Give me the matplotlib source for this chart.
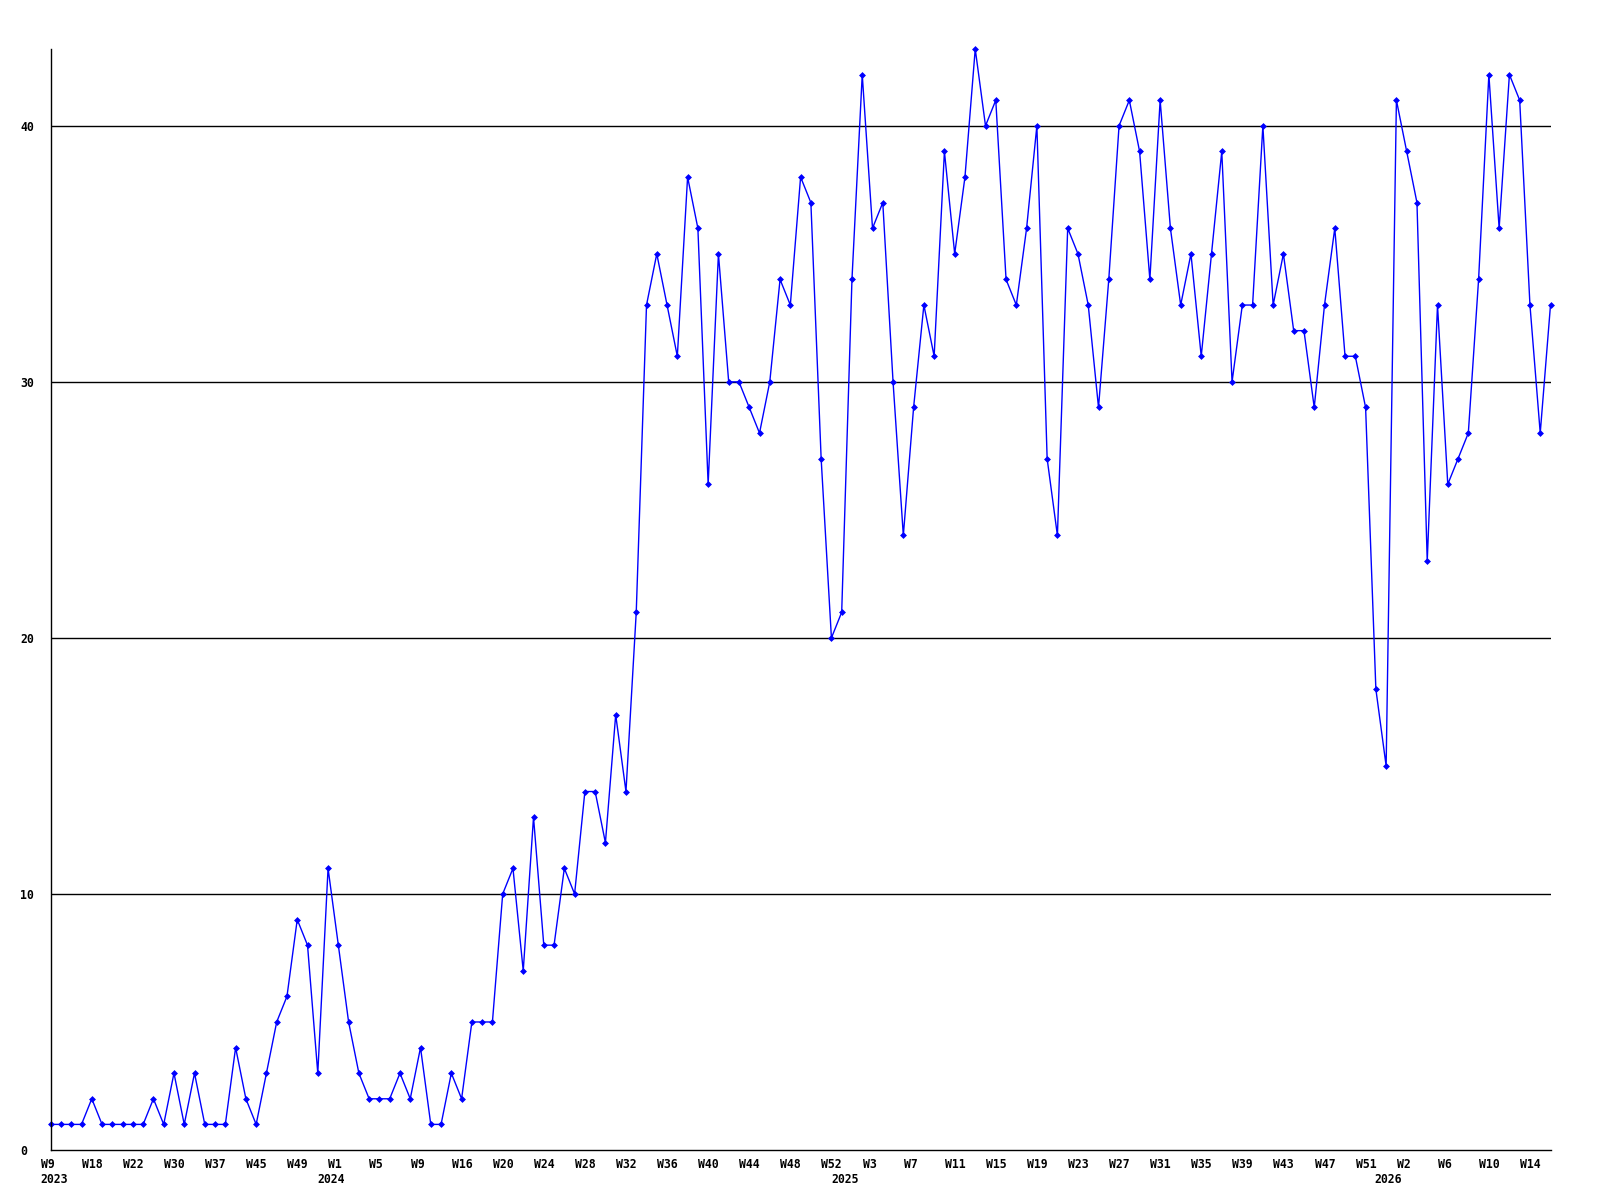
import matplotlib
matplotlib.use("Agg")
import matplotlib.pyplot as plt
from matplotlib.transforms import offset_copy

# ---- data ----
values = [
    1, 1, 1, 1, 2, 1, 1, 1, 1, 1,
    2, 1, 3, 1, 3, 1, 1, 1, 4, 2,
    1, 3, 5, 6, 9, 8, 3, 11, 8, 5,
    3, 2, 2, 2, 3, 2, 4, 1, 1, 3,
    2, 5, 5, 5, 10, 11, 7, 13, 8, 8,
    11, 10, 14, 14, 12, 17, 14, 21, 33, 35,
    33, 31, 38, 36, 26, 35, 30, 30, 29, 28,
    30, 34, 33, 38, 37, 27, 20, 21, 34, 42,
    36, 37, 30, 24, 29, 33, 31, 39, 35, 38,
    43, 40, 41, 34, 33, 36, 40, 27, 24, 36,
    35, 33, 29, 34, 40, 41, 39, 34, 41, 36,
    33, 35, 31, 35, 39, 30, 33, 33, 40, 33,
    35, 32, 32, 29, 33, 36, 31, 31, 29, 18,
    15, 41, 39, 37, 23, 33, 26, 27, 28, 34,
    42, 36, 42, 41, 33, 28, 33,
]

week_labels = ["W9", "W18", "W22", "W30", "W37", "W45", "W49", "W1", "W5",
               "W9", "W16", "W20", "W24", "W28", "W32", "W36", "W40", "W44",
               "W48", "W52", "W3", "W7", "W11", "W15", "W19", "W23", "W27",
               "W31", "W35", "W39", "W43", "W47", "W51", "W2", "W6", "W10",
               "W14"]
label_step = 4

year_labels = ["2023", "2024", "2025", "2026"]
year_label_at = [0.3, 27.25, 77.3, 130.2]   # position along the week index

y_ticks = [0, 10, 20, 30, 40]

# ---- drawing ----
W, H, DPI = 1600, 1200, 100
fig = plt.figure(figsize=(W / DPI, H / DPI), dpi=DPI)
fig.patch.set_facecolor("white")

left_px, right_px, top_px, bottom_px = 50.7, 1550.5, 49.0, 1150.0
ax = fig.add_axes([left_px / W, 1 - bottom_px / H,
                   (right_px - left_px) / W, (bottom_px - top_px) / H])
ax.set_facecolor("white")

xs = list(range(len(values)))
ax.set_xlim(0, len(values) - 1)
ax.set_ylim(0, max(values))

for yv in y_ticks[1:]:
    ax.axhline(yv, color="black", linewidth=1.0, zorder=1)

ax.plot(xs, values, color="#0000ff", linewidth=1.0, marker="D",
        markersize=3.0, markeredgewidth=0.5, markerfacecolor="#0000ff",
        markeredgecolor="#0000ff", zorder=3, clip_on=False)

for s in ["top", "right"]:
    ax.spines[s].set_visible(False)
for s in ["left", "bottom"]:
    ax.spines[s].set_color("black")
    ax.spines[s].set_linewidth(1.0)
    ax.spines[s].set_zorder(4)

font = dict(family="DejaVu Sans Mono", fontweight="bold", fontsize=8.3,
            color="black")

# y tick labels, left aligned near figure left edge
ax.set_yticks(y_ticks)
ax.set_yticklabels([str(v) for v in y_ticks], ha="left", **font)
ax.tick_params(axis="y", length=0, pad=(left_px - 20) * 72 / DPI)

# x labels (every 4th point)
ax.set_xticks([])
for k, lab in enumerate(week_labels):
    ax.annotate(lab, xy=(k * label_step, 0), xycoords=("data", "axes fraction"),
                xytext=(-10 * 72 / DPI, -8 * 72 / DPI), textcoords="offset points",
                ha="left", va="top", annotation_clip=False, **font)

for lab, pos in zip(year_labels, year_label_at):
    ax.annotate(lab, xy=(pos, 0), xycoords=("data", "axes fraction"),
                xytext=(0, -23 * 72 / DPI), textcoords="offset points",
                ha="center", va="top", annotation_clip=False, **font)

fig.savefig("out.png", dpi=DPI, facecolor="white")
